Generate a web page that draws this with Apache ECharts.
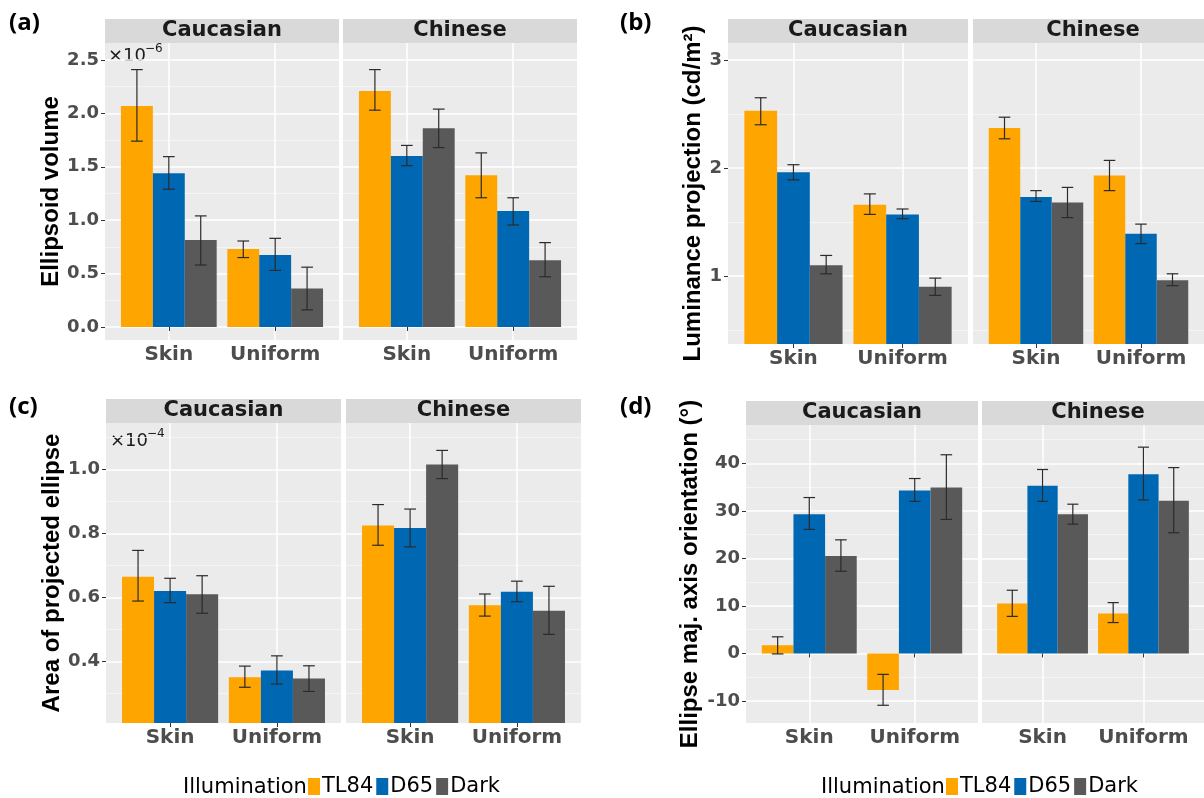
<!DOCTYPE html>
<html><head><meta charset="utf-8">
<script src="https://cdn.jsdelivr.net/npm/echarts@6/dist/echarts.min.js"></script>
<style>html,body{margin:0;padding:0;background:#fff}#c{width:1204px;height:798px}</style>
</head><body><div id="c"></div>
<script>
// ---------- data ----------
const categories = ['Skin', 'Uniform'];
const facets = ['Caucasian', 'Chinese'];
const illuminations = ['TL84', 'D65', 'Dark'];
// rows: TL84, D65, Dark ; cols: Caucasian-Skin, Caucasian-Uniform, Chinese-Skin, Chinese-Uniform

// (a) Ellipsoid volume (x 1e-6)
const volumeMean = [[2.07, 0.73, 2.21, 1.42], [1.44, 0.675, 1.60, 1.085], [0.815, 0.36, 1.86, 0.625]];
const volumeLo   = [[1.74, 0.65, 2.03, 1.21], [1.29, 0.53, 1.51, 0.955], [0.58, 0.16, 1.68, 0.47]];
const volumeHi   = [[2.41, 0.805, 2.41, 1.63], [1.595, 0.83, 1.70, 1.21], [1.04, 0.56, 2.04, 0.79]];
const volumeTicks = [0, 0.5, 1, 1.5, 2, 2.5];
const volumeTickLabels = ['0.0', '0.5', '1.0', '1.5', '2.0', '2.5'];
const volumeMinor = [0.25, 0.75, 1.25, 1.75, 2.25];

// (b) Luminance projection (cd/m2)
const lumMean = [[2.53, 1.66, 2.37, 1.93], [1.96, 1.57, 1.73, 1.39], [1.10, 0.90, 1.68, 0.96]];
const lumLo   = [[2.40, 1.57, 2.27, 1.79], [1.89, 1.53, 1.69, 1.30], [1.02, 0.82, 1.54, 0.91]];
const lumHi   = [[2.65, 1.76, 2.47, 2.07], [2.03, 1.62, 1.79, 1.48], [1.19, 0.98, 1.82, 1.02]];
const lumTicks = [1, 2, 3];
const lumTickLabels = ['1', '2', '3'];
const lumMinor = [0.5, 1.5, 2.5];

// (c) Area of projected ellipse (x 1e-4)
const areaMean = [[0.665, 0.351, 0.825, 0.576], [0.620, 0.372, 0.817, 0.618], [0.610, 0.347, 1.015, 0.559]];
const areaLo   = [[0.589, 0.320, 0.763, 0.542], [0.584, 0.330, 0.758, 0.587], [0.551, 0.307, 0.971, 0.485]];
const areaHi   = [[0.747, 0.386, 0.890, 0.611], [0.660, 0.418, 0.876, 0.651], [0.668, 0.387, 1.059, 0.635]];
const areaTicks = [0.4, 0.6, 0.8, 1.0];
const areaTickLabels = ['0.4', '0.6', '0.8', '1.0'];
const areaMinor = [0.3, 0.5, 0.7, 0.9, 1.1];

// (d) Ellipse major axis orientation (deg)
const oriMean = [[1.75, -7.7, 10.5, 8.4], [29.3, 34.3, 35.3, 37.7], [20.5, 34.9, 29.3, 32.1]];
const oriLo   = [[-0.1, -10.9, 7.8, 6.5], [26.1, 32.0, 32.0, 32.3], [17.3, 28.2, 27.2, 25.4]];
const oriHi   = [[3.5, -4.4, 13.3, 10.7], [32.8, 36.8, 38.7, 43.4], [23.9, 41.8, 31.4, 39.1]];
const oriTicks = [-10, 0, 10, 20, 30, 40];
const oriTickLabels = ['-10', '0', '10', '20', '30', '40'];
const oriMinor = [-5, 5, 15, 25, 35, 45];

// ---------- styling / layout ----------
const colors = ['#FFA500', '#0068B2', '#595959'];
const panels = [
  {mean: volumeMean, lo: volumeLo, hi: volumeHi, ticks: volumeTicks, labels: volumeTickLabels, minor: volumeMinor,
   title: 'Ellipsoid volume', min: -0.122, max: 2.659, lefts: [105, 343], width: 234, top: 43, height: 297, nameGap: 37,
   tag: '(a)', tagX: 9, tagY: 23, exp: '\u22126', expX: 108, expY: 47},
  {mean: lumMean, lo: lumLo, hi: lumHi, ticks: lumTicks, labels: lumTickLabels, minor: lumMinor,
   title: 'Luminance projection (cd/m\u00B2)', min: 0.370, max: 3.157, lefts: [728, 973], width: 240, top: 43, height: 301, nameGap: 22,
   tag: '(b)', tagX: 620, tagY: 23},
  {mean: areaMean, lo: areaLo, hi: areaHi, ticks: areaTicks, labels: areaTickLabels, minor: areaMinor,
   title: 'Area of projected ellipse', min: 0.2085, max: 1.1445, lefts: [106, 346], width: 235, top: 423, height: 300, nameGap: 37,
   tag: '(c)', tagX: 9, tagY: 407, exp: '\u22124', expX: 110, expY: 432},
  {mean: oriMean, lo: oriLo, hi: oriHi, ticks: oriTicks, labels: oriTickLabels, minor: oriMinor,
   title: 'Ellipse maj. axis orientation (\u00B0)', min: -14.63, max: 48.06, lefts: [746, 982], width: 232, top: 425, height: 298, nameGap: 44,
   tag: '(d)', tagX: 620, tagY: 407}
];

const grids = [], xAxes = [], yAxes = [], series = [], graphics = [];
const tickFont = {fontFamily: 'DejaVu Sans', fontWeight: 'bold', color: '#4D4D4D'};

function makeRender(k) {
  return function (params, api) {
    const x = api.value(0) + (k - 1) * 0.3;
    const v = api.value(1), lo = api.value(2), hi = api.value(3);
    const p0 = api.coord([x - 0.15, v]);
    const p1 = api.coord([x + 0.15, 0]);
    const rect = echarts.graphic.clipRectByRect({
      x: p0[0], y: Math.min(p0[1], p1[1]), width: p1[0] - p0[0], height: Math.abs(p1[1] - p0[1])
    }, params.coordSys);
    const top = api.coord([x, hi]), bot = api.coord([x, lo]);
    const cl = api.coord([x - 0.055, hi])[0], cr = api.coord([x + 0.055, hi])[0];
    const ls = {stroke: '#2b2b2b', lineWidth: 1.2};
    const children = [];
    if (rect) children.push({type: 'rect', shape: rect, style: {fill: colors[k]}});
    children.push({type: 'line', shape: {x1: top[0], y1: top[1], x2: bot[0], y2: bot[1]}, style: ls});
    children.push({type: 'line', shape: {x1: cl, y1: top[1], x2: cr, y2: top[1]}, style: ls});
    children.push({type: 'line', shape: {x1: cl, y1: bot[1], x2: cr, y2: bot[1]}, style: ls});
    return {type: 'group', children: children};
  };
}

panels.forEach(function (p, pi) {
  facets.forEach(function (fname, f) {
    const gi = pi * 2 + f;
    const left = p.lefts[f];
    grids.push({left: left, top: p.top, width: p.width, height: p.height, show: true,
      backgroundColor: '#EBEBEB', borderWidth: 0});
    xAxes.push({type: 'value', gridIndex: gi, min: 0.4, max: 2.6,
      axisLine: {show: false},
      axisTick: {show: true, length: 4, lineStyle: {color: '#333'}, customValues: [1, 2]},
      axisLabel: Object.assign({customValues: [1, 2], fontSize: 20, margin: 5,
        formatter: function (v) { return categories[Math.round(v) - 1]; }}, tickFont),
      splitLine: {show: true, lineStyle: {color: '#FFFFFF', width: 1.5}}
    });
    yAxes.push({type: 'value', gridIndex: gi, min: p.min, max: p.max, position: 'left',
      axisLine: {show: false},
      axisTick: {show: f === 0, length: 4, lineStyle: {color: '#333'}, customValues: p.ticks},
      axisLabel: Object.assign({show: f === 0, customValues: p.ticks, fontSize: 18, margin: 6,
        formatter: function (v) {
          const i = p.ticks.findIndex(function (t) { return Math.abs(t - v) < 1e-9; });
          return i >= 0 ? p.labels[i] : '';
        }}, tickFont),
      splitLine: {show: true, lineStyle: {color: '#FFFFFF', width: 1.5}},
      name: f === 0 ? p.title : '', nameLocation: 'middle', nameGap: p.nameGap,
      nameTextStyle: {fontFamily: 'Liberation Sans', fontWeight: 'bold', fontSize: 24, color: '#000'}
    });
    yAxes.push({type: 'value', gridIndex: gi, min: p.min, max: p.max, position: 'left',
      axisLine: {show: false},
      axisTick: {show: false, customValues: p.minor},
      axisLabel: {show: false, customValues: p.minor},
      splitLine: {show: true, lineStyle: {color: '#F7F7F7', width: 0.8}}
    });
    illuminations.forEach(function (name, k) {
      const data = categories.map(function (c, ci) {
        const col = f * 2 + ci;
        return [ci + 1, p.mean[k][col], p.lo[k][col], p.hi[k][col]];
      });
      series.push({type: 'custom', name: name, xAxisIndex: gi, yAxisIndex: gi * 2,
        itemStyle: {color: colors[k]}, encode: {x: 0, y: 1}, data: data,
        renderItem: makeRender(k), clip: true});
    });
    // strip header
    graphics.push({type: 'rect', shape: {x: left, y: p.top - 24, width: p.width, height: 24},
      style: {fill: '#D9D9D9'}, silent: true});
    graphics.push({type: 'text', x: left + p.width / 2, y: p.top - 12,
      style: {text: fname, fontFamily: 'DejaVu Sans', fontWeight: 'bold', fontSize: 21, fill: '#1A1A1A',
        align: 'center', verticalAlign: 'middle'}, silent: true});
  });
  graphics.push({type: 'text', x: p.tagX, y: p.tagY,
    style: {text: p.tag, fontFamily: 'Open Sans', fontWeight: 'bold', fontSize: 24, fill: '#000',
      align: 'left', verticalAlign: 'middle'}});
  if (p.exp) {
    graphics.push({type: 'text', x: p.expX, y: p.expY,
      style: {text: '\u00D710', fontFamily: 'DejaVu Sans', fontSize: 18, fill: '#1A1A1A', align: 'left', verticalAlign: 'top'}});
    graphics.push({type: 'text', x: p.expX + 37, y: p.expY - 4,
      style: {text: p.exp, fontFamily: 'DejaVu Sans', fontSize: 12, fill: '#1A1A1A', align: 'left', verticalAlign: 'top'}});
  }
});

// legend titles
[183, 821].forEach(function (x) {
  graphics.push({type: 'text', x: x, y: 788,
    style: {text: 'Illumination', fontFamily: 'DejaVu Sans', fontSize: 21, fill: '#000', align: 'left', verticalAlign: 'middle'}});
});

function makeLegend(left) {
  return {data: illuminations, left: left, top: 776, padding: 0, orient: 'horizontal',
    icon: 'rect', itemWidth: 12, itemHeight: 17, itemGap: 3, selectedMode: false,
    textStyle: {fontFamily: 'DejaVu Sans', fontSize: 21, color: '#000', padding: [0, 0, 0, -3]}};
}

const chart = echarts.init(document.getElementById('c'), null, {renderer: 'canvas'});
chart.setOption({
  animation: false,
  backgroundColor: '#FFFFFF',
  grid: grids,
  xAxis: xAxes,
  yAxis: yAxes,
  series: series,
  legend: [makeLegend(308), makeLegend(946)],
  graphic: graphics
});
</script>
</body></html>
